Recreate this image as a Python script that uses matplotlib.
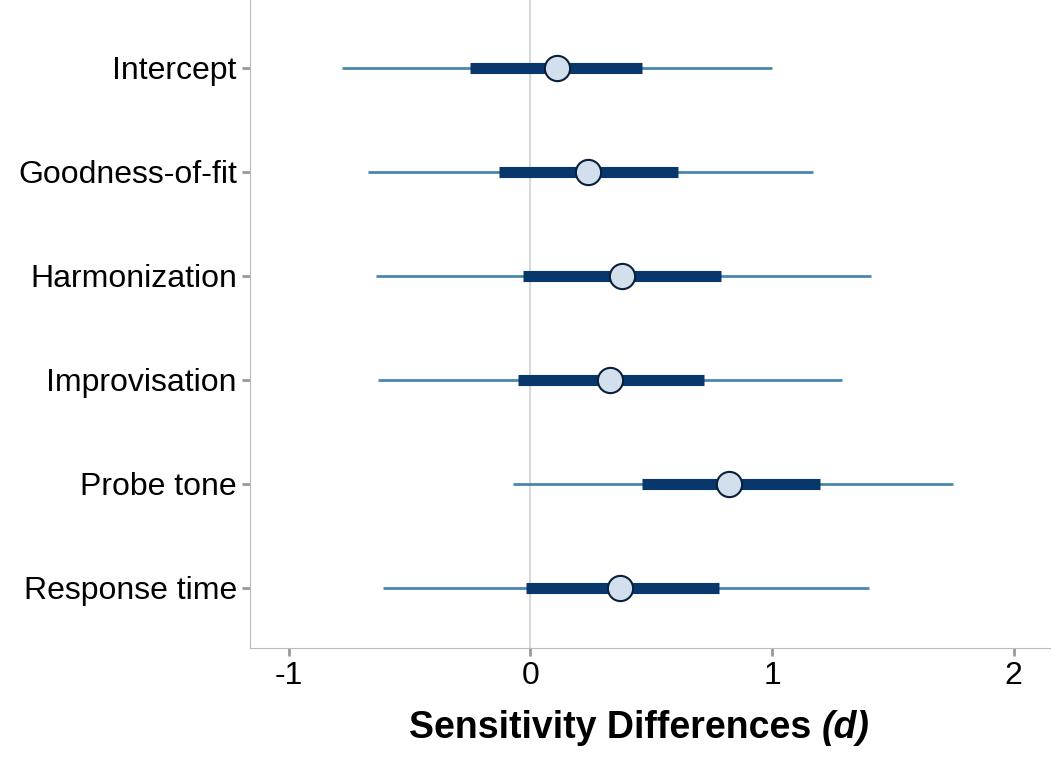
import matplotlib.pyplot as plt

plt.rcParams['font.family'] = ['Liberation Sans', 'DejaVu Sans']

labels = ['Intercept', 'Goodness-of-fit', 'Harmonization', 'Improvisation', 'Probe tone', 'Response time']
est = [0.11, 0.24, 0.38, 0.33, 0.82, 0.37]
lo95 = [-0.78, -0.67, -0.64, -0.63, -0.07, -0.61]
hi95 = [1.00, 1.17, 1.41, 1.29, 1.75, 1.40]
lo50 = [-0.25, -0.13, -0.03, -0.05, 0.46, -0.02]
hi50 = [0.46, 0.61, 0.79, 0.72, 1.20, 0.78]

fig = plt.figure(figsize=(10.63, 7.57), dpi=100)
ax = fig.add_axes([250 / 1063, 1 - 648 / 757, 800 / 1063, 648 / 757])
ax.axvline(0, color='#d9d9d9', lw=1.5, zorder=0)
ys = list(range(len(labels)))
ax.hlines(ys, lo95, hi95, color='#4a86ab', lw=2, zorder=1)
ax.hlines(ys, lo50, hi50, color='#08376b', lw=8, zorder=2)
ax.scatter(est, ys, s=330, color='#d1e0ec', edgecolor='#0b1f3a', lw=1.5, zorder=3)

ax.set_xlim(-1.16, 2.15)
ax.set_ylim(5.58, -0.65)
ax.set_xticks([-1, 0, 1, 2])
ax.set_xticklabels(['-1', '0', '1', '2'])
ax.set_yticks(ys)
ax.set_yticklabels(labels)
ax.tick_params(labelsize=23, color='#999999', width=2, length=6)
for s in ['top', 'right']:
    ax.spines[s].set_visible(False)
for s in ['left', 'bottom']:
    ax.spines[s].set_color('#bbbbbb')

# x label: bold text plus bold italic (d)
t1 = fig.text(0.385, 0.025, 'Sensitivity Differences ', fontsize=27, fontweight='bold')
ax.annotate('(d)', xy=(1, 0), xycoords=t1, fontsize=27, fontweight='bold',
            style='italic', va='bottom', ha='left', annotation_clip=False)
fig.savefig('out.png', dpi=100)
